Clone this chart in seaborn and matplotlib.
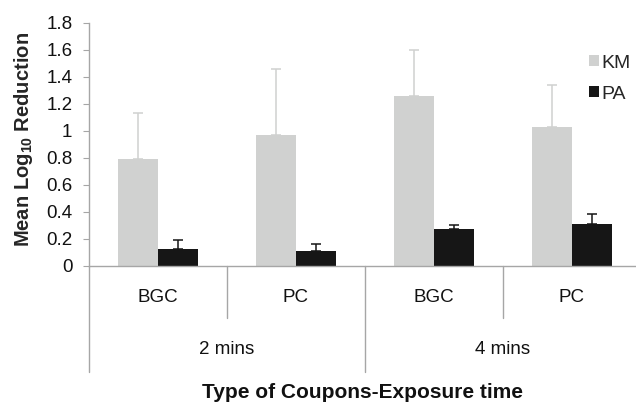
import numpy as np
import pandas as pd
import matplotlib
matplotlib.use("Agg")
import matplotlib.pyplot as plt
import matplotlib.transforms as mtransforms
from matplotlib.ticker import FuncFormatter
import seaborn as sns

# ---- data ----
coupons = ["BGC", "PC", "BGC", "PC"]
times = ["2 mins", "4 mins"]
strains = ["KM", "PA"]
km_mean = [0.79, 0.97, 1.26, 1.03]
km_err = [0.34, 0.49, 0.34, 0.31]
pa_mean = [0.12, 0.11, 0.27, 0.31]
pa_err = [0.07, 0.05, 0.03, 0.07]
colors = {"KM": "#d0d1d0", "PA": "#161616"}

slots = [f"{c}_{i}" for i, c in enumerate(coupons)]
df = pd.DataFrame({
    "slot": slots * 2,
    "strain": ["KM"] * 4 + ["PA"] * 4,
    "value": km_mean + pa_mean,
})
errs = {"KM": km_err, "PA": pa_err}

sns.set_style("white")
plt.rcParams["font.family"] = ["Liberation Sans", "DejaVu Sans"]
plt.rcParams["mathtext.fontset"] = "custom"
plt.rcParams["mathtext.bf"] = "Liberation Sans:bold"
plt.rcParams["mathtext.rm"] = "Liberation Sans"

W, H = 636, 407
fig = plt.figure(figsize=(W / 100, H / 100), dpi=100)
x0, y0, y1 = 89, 265.5, 22.7
ax = fig.add_axes([x0 / W, 1 - y0 / H, (W - x0) / W, (y0 - y1) / H])

sns.barplot(data=df, x="slot", y="value", hue="strain", hue_order=strains,
            palette=colors, width=0.58, gap=0, saturation=1, ax=ax,
            edgecolor="none", linewidth=0)

# upward-only error bars on each bar
for cont, s in zip(ax.containers, strains):
    xs = [p.get_x() + p.get_width() / 2 for p in cont.patches]
    ys = [p.get_height() for p in cont.patches]
    ax.errorbar(xs, ys, yerr=[np.zeros(len(ys)), errs[s]], fmt="none",
                ecolor=colors[s], elinewidth=1.1, capsize=3.5, capthick=1.1,
                zorder=1)

ax.set_ylim(0, 1.8)
ax.set_yticks(np.arange(0, 1.81, 0.2))
ax.yaxis.set_major_formatter(FuncFormatter(lambda v, p: f"{v:g}"))
ax.set_xlim(-0.5, -0.5 + (W - x0) / 138)

spine_c = "#a6a6a6"
txt_c = "#111111"
for side in ["top", "right"]:
    ax.spines[side].set_visible(False)
for side in ["left", "bottom"]:
    ax.spines[side].set_color(spine_c)
    ax.spines[side].set_linewidth(1.0)
ax.tick_params(axis="y", left=True, length=4, color=spine_c, labelsize=13.5,
               pad=8, labelcolor=txt_c)
ax.set_xticks(range(len(coupons)))
ax.set_xticklabels(coupons)
ax.tick_params(axis="x", bottom=False, labelsize=13.5, pad=13.5,
               labelcolor=txt_c)
ax.set_xlabel("")
ax.set_ylabel(r"Mean Log$_{\mathbf{10}}$ Reduction", fontsize=14.5,
              fontweight="bold")
ax.yaxis.set_label_coords((35 - x0) / (W - x0), 0.517)

# two-level category axis
tr = mtransforms.blended_transform_factory(ax.transData, ax.transAxes)
h_short = -(318 - y0) / (y0 - y1)
h_long = -(372 - y0) / (y0 - y1)
for i in range(len(coupons) + 1):
    xb = i - 0.5
    bottom = h_long if i % 2 == 0 else h_short
    ax.plot([xb, xb], [0, bottom], color=spine_c, lw=1.0, transform=tr,
            clip_on=False)
for j, t in enumerate(times):
    ax.text(2 * j + 0.5, -(350 - y0) / (y0 - y1), t, transform=tr,
            ha="center", va="center", fontsize=13.5, color=txt_c)

fig.text(362 / W, 1 - 393 / H, "Type of Coupons-Exposure time", ha="center",
         va="center", fontsize=15, fontweight="bold", color=txt_c)

leg = ax.legend(loc="upper left", bbox_to_anchor=(579 / W, 1 - 45 / H),
                bbox_transform=fig.transFigure, frameon=False, fontsize=14,
                handlelength=0.52, handleheight=0.52, handletextpad=0.12,
                labelspacing=0.72, borderpad=0)

fig.savefig("out.png", dpi=100)
